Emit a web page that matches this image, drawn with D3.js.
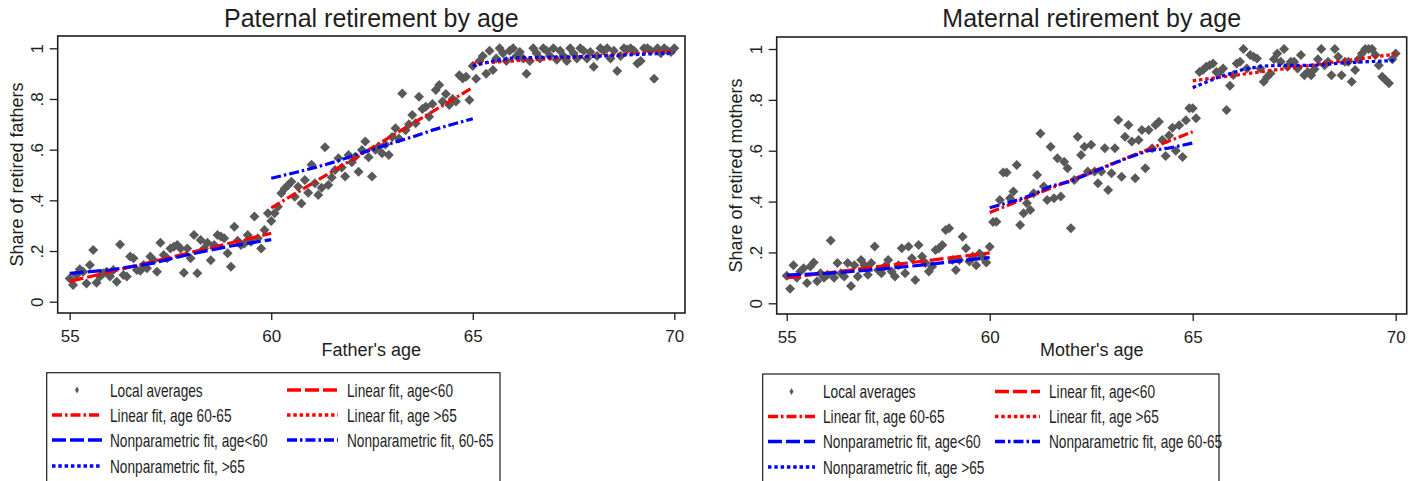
<!DOCTYPE html>
<html>
<head>
<meta charset="utf-8">
<script src="https://cdn.jsdelivr.net/npm/d3@7"></script>
<style>
  body { margin: 0; background: #fff; }
  svg { display: block; font-family: "Liberation Sans", Arial, sans-serif; }
</style>
</head>
<body>
<svg id="chart" width="1419" height="481"></svg>
<script>
// local averages, one per monthly age bin from 55 to 70
const ageBins = d3.range(0, 181).map(i => 55 + i / 12);

const fatherShare = [
  .092,.066,.105,.128,.118,.072,.145,.204,.075,.099,.112,.118,
  .099,.125,.079,.226,.105,.099,.178,.171,.125,.122,.145,.132,
  .178,.164,.118,.233,.184,.171,.21,.217,.224,.21,.114,.21,
  .171,.263,.112,.243,.21,.233,.164,.224,.263,.257,.25,.191,
  .138,.296,.241,.224,.23,.263,.237,.336,.25,.21,.283,.349,
  .318,.349,.375,.428,.447,.46,.473,.414,.454,.388,.48,.43,
  .54,.467,.421,.45,.61,.461,.49,.52,.566,.53,.494,.579,
  .55,.572,.513,.599,.632,.57,.494,.60,.612,.586,.62,.579,
  .65,.684,.644,.822,.677,.70,.737,.704,.809,.76,.769,.73,
  .78,.835,.855,.79,.82,.776,.80,.79,.894,.881,.888,.796,
  .93,.88,.95,.97,.90,.99,.914,.96,1.0,.98,.95,.99,
  1.0,.97,.985,.96,.90,.95,1.0,.98,.96,1.0,.99,.97,
  1.0,.955,.99,.97,.95,1.0,.98,.96,1.0,.99,.96,.985,
  .927,.97,1.0,.99,1.0,.96,.99,.91,.97,1.0,.995,1.0,
  .99,.94,.95,1.0,1.0,.99,.88,1.0,.98,1.0,.99,.985,
  1.0
];

const motherShare = [
  .108,.057,.15,.1,.125,.138,.08,.145,.16,.087,.118,.1,
  .112,.247,.1,.158,.118,.105,.158,.068,.15,.105,.17,.15,
  .112,.158,.223,.131,.118,.145,.17,.125,.105,.15,.216,.118,
  .223,.177,.092,.229,.184,.158,.125,.145,.21,.216,.229,.288,
  .295,.17,.131,.17,.262,.216,.164,.184,.15,.196,.18,.16,
  .222,.32,.321,.406,.514,.514,.413,.44,.544,.308,.354,.393,
  .367,.433,.505,.668,.459,.406,.616,.413,.57,.42,.557,.531,
  .295,.485,.655,.583,.616,.518,.623,.518,.472,.518,.61,.446,
  .511,.61,.721,.498,.655,.701,.636,.492,.642,.681,.531,.681,
  .61,.701,.714,.642,.579,.66,.69,.60,.70,.575,.72,.767,
  .767,.728,.91,.917,.93,.936,.943,.91,.91,.923,.76,.855,
  .898,.943,.95,1.0,.923,.976,.97,.963,.923,.871,.89,.904,
  .96,.982,.95,1.0,.93,.95,.95,.923,.976,.897,.91,.897,
  .92,.96,1.0,.936,.95,.897,1.0,.97,.897,.95,.95,.871,
  .917,.96,.982,1.0,1.0,1.0,.976,.936,.891,.878,.865,.96,
  .982
];

// fitted lines, [age, share]
const fatherLinBelow60 = [[55, .08], [60, .27]];
const fatherLin6065    = [[60, .37], [65, .845]];
const fatherLinAbove65 = [[65, .94], [70, .99]];
const fatherNpBelow60  = [[55, .112], [56, .125], [57, .15], [58, .188], [59, .22], [60, .245]];
const fatherNp6065     = [[60, .487], [60.6, .51], [61.1, .53], [61.6, .553], [62.1, .58], [62.5, .60],
                          [63, .626], [63.5, .65], [64, .677], [64.5, .70], [65, .722]];
const fatherNpAbove65  = [[65, .93], [65.5, .95], [66, .962], [67, .965], [68, .968], [69, .975], [70, .982]];

const motherLinBelow60 = [[55, .10], [60, .198]];
const motherLin6065    = [[60, .357], [65, .675]];
const motherLinAbove65 = [[65, .875], [70, .98]];
const motherNpBelow60  = [[55, .111], [56, .118], [57, .13], [58, .145], [59, .162], [60, .18]];
const motherNp6065     = [[60, .376], [60.6, .402], [61.1, .43], [61.5, .46], [62, .48], [62.5, .513],
                          [62.9, .54], [63.4, .572], [63.9, .60], [64.4, .61], [65, .63]];
const motherNpAbove65  = [[65, .848], [65.6, .887], [66.25, .92], [66.75, .933], [67.2, .936], [68, .936],
                          [68.7, .945], [69.3, .95], [70, .955]];

const xTicks = [55, 60, 65, 70];
const yTicks = [0, .2, .4, .6, .8, 1];

const fatherLegend = ["Local averages", "Linear fit, age<60", "Linear fit, age 60-65", "Linear fit, age >65",
                      "Nonparametric fit, age<60", "Nonparametric fit, 60-65", "Nonparametric fit, >65"];
const motherLegend = ["Local averages", "Linear fit, age<60", "Linear fit, age 60-65", "Linear fit, age >65",
                      "Nonparametric fit, age<60", "Nonparametric fit, age 60-65", "Nonparametric fit, age >65"];

const RED = "#ff0000", BLUE = "#0000ff", GREY = "#595959", INK = "#1e1e1e";
const DASH = {long: "14,4", dashdot: "10,3,2.5,3", dot: "3.5,2.8"};

class RetirementPanel {
    constructor(svg, p) {
        this.svg = svg;
        this.p = p;
        this.g = svg.append("g");
        this.x = d3.scaleLinear().domain([55, 70]).range([p.x55, p.x70]);
        this.y = d3.scaleLinear().domain([0, 1]).range([p.y0, p.y1]);
    }

    draw() {
        const p = this.p, g = this.g, x = this.x, y = this.y;

        g.append("rect")
            .attr("x", p.left).attr("y", p.top)
            .attr("width", p.right - p.left).attr("height", p.bottom - p.top)
            .attr("fill", "#fff").attr("stroke", INK).attr("stroke-width", 1.6);

        const fmt = d => d === 0 ? "0" : d === 1 ? "1" : String(d).replace("0.", ".");
        const ya = g.append("g").attr("transform", `translate(${p.left},0)`)
            .call(d3.axisLeft(y).tickValues(yTicks).tickFormat(fmt).tickSize(8).tickSizeOuter(0));
        ya.select(".domain").remove();
        ya.selectAll("text")
            .attr("x", null).attr("dy", null)
            .attr("transform", "translate(-15,0) rotate(-90)")
            .attr("text-anchor", "middle");

        const xa = g.append("g").attr("transform", `translate(0,${p.bottom})`)
            .call(d3.axisBottom(x).tickValues(xTicks).tickSize(7).tickSizeOuter(0));
        xa.select(".domain").remove();
        xa.selectAll("text").attr("y", 28.5).attr("dy", null);

        [ya, xa].forEach(a => {
            a.selectAll("line").attr("stroke", INK).attr("stroke-width", 1.3);
            a.selectAll("text").attr("fill", INK).style("font-size", "17px")
                .style("font-family", "'Liberation Sans', Arial, sans-serif");
        });

        const cx = (p.left + p.right) / 2;
        g.append("text").attr("x", cx).attr("y", 26.5).attr("text-anchor", "middle")
            .attr("fill", INK).style("font-size", "25px").text(p.title);
        g.append("text").attr("x", cx).attr("y", 356).attr("text-anchor", "middle")
            .attr("fill", INK).style("font-size", "18px").text(p.xlabel);
        g.append("text")
            .attr("transform", `translate(${p.left - 34.5},${(p.top + p.bottom) / 2}) rotate(-90)`)
            .attr("text-anchor", "middle")
            .attr("fill", INK).style("font-size", "18px").text(p.ylabel);

        const diamond = d3.symbol().type(d3.symbolSquare).size(50);
        g.append("g").selectAll("path")
            .data(p.shares.map((v, i) => ({age: ageBins[i], v})))
            .join("path")
            .attr("d", diamond)
            .attr("transform", d => `translate(${x(d.age)},${y(d.v)}) rotate(45)`)
            .attr("fill", GREY);

        const line = d3.line().x(d => x(d[0])).y(d => y(d[1]));
        const lines = g.append("g").attr("fill", "none").attr("stroke-width", 3.2);
        p.fits.forEach(f => {
            lines.append("path").datum(f.data)
                .attr("d", line)
                .attr("stroke", f.color)
                .attr("stroke-dasharray", f.dash);
        });

        this.legend();
    }

    legend() {
        const p = this.p, L = p.legend;
        const lg = this.svg.append("g");
        lg.append("rect")
            .attr("x", L.x).attr("y", L.y).attr("width", L.w).attr("height", 140)
            .attr("fill", "#fff").attr("stroke", INK).attr("stroke-width", 1.2);

        const cols = [{x0: L.c1, x1: L.c1e, tx: L.t1}, {x0: L.c2, x1: L.c2e, tx: L.t2}];
        const entries = [{marker: true}].concat(p.fits);
        entries.forEach((e, i) => {
            const col = cols[i % 2];
            const ry = L.rows[Math.floor(i / 2)];
            if (e.marker) {
                lg.append("path")
                    .attr("d", d3.symbol().type(d3.symbolDiamond).size(14))
                    .attr("transform", `translate(${(col.x0 + col.x1) / 2},${ry})`)
                    .attr("fill", GREY);
            } else {
                lg.append("line")
                    .attr("x1", col.x0).attr("x2", col.x1).attr("y1", ry).attr("y2", ry)
                    .attr("stroke", e.color).attr("stroke-width", 3.5)
                    .attr("stroke-dasharray", e.dash);
            }
            lg.append("text")
                .attr("transform", `translate(${col.tx},${ry + 6.5}) scale(0.76,1)`)
                .attr("fill", INK).style("font-size", "18px")
                .text(p.labels[i]);
        });
    }
}

function fitsFor(lb, lm, la, nb, nm, na) {
    return [
        {data: lb, color: RED, dash: DASH.long},
        {data: lm, color: RED, dash: DASH.dashdot},
        {data: la, color: RED, dash: DASH.dot},
        {data: nb, color: BLUE, dash: DASH.long},
        {data: nm, color: BLUE, dash: DASH.dashdot},
        {data: na, color: BLUE, dash: DASH.dot}
    ];
}

const svg = d3.select("#chart");

new RetirementPanel(svg, {
    left: 57.7, right: 685, top: 36, bottom: 313,
    x55: 69.7, x70: 674.3, y0: 301.7, y1: 48.3,
    title: "Paternal retirement by age", xlabel: "Father's age", ylabel: "Share of retired fathers",
    shares: fatherShare, labels: fatherLegend,
    fits: fitsFor(fatherLinBelow60, fatherLin6065, fatherLinAbove65, fatherNpBelow60, fatherNp6065, fatherNpAbove65),
    legend: {x: 46.7, y: 372.7, w: 453.3, c1: 52, c1e: 102, t1: 110, c2: 287, c2e: 338, t2: 347,
             rows: [390, 415, 440, 466]}
}).draw();

new RetirementPanel(svg, {
    left: 776.7, right: 1406.7, top: 37, bottom: 314,
    x55: 786.7, x70: 1395.7, y0: 303.3, y1: 49,
    title: "Maternal retirement by age", xlabel: "Mother's age", ylabel: "Share of retired mothers",
    shares: motherShare, labels: motherLegend,
    fits: fitsFor(motherLinBelow60, motherLin6065, motherLinAbove65, motherNpBelow60, motherNp6065, motherNpAbove65),
    legend: {x: 762.7, y: 374, w: 456.3, c1: 768, c1e: 815, t1: 823, c2: 995, c2e: 1040, t2: 1049,
             rows: [391.5, 416.5, 441.5, 467]}
}).draw();
</script>
</body>
</html>
